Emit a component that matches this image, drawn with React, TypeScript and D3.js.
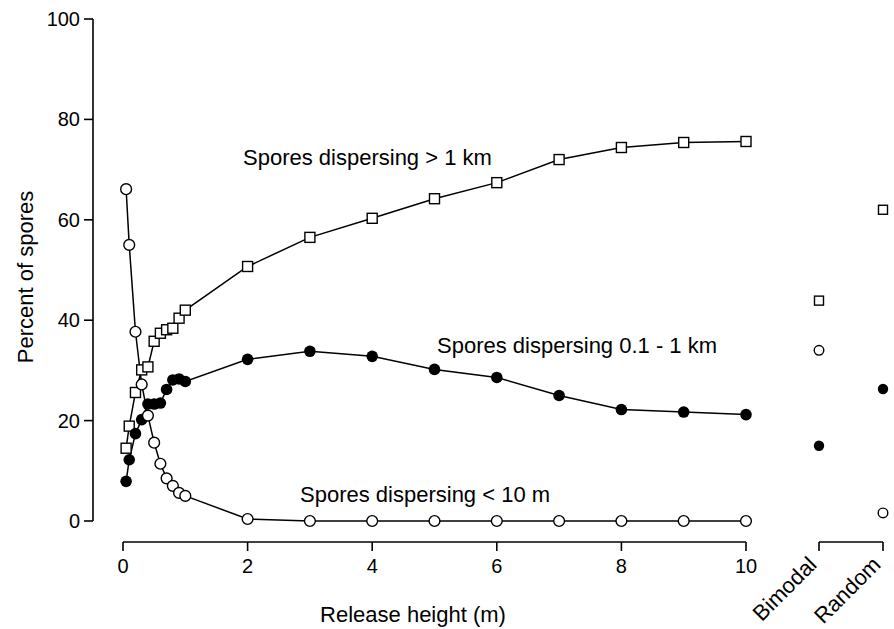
import React from "react";
import * as d3 from "d3";

// Release heights (m) for the measured runs
const heights = [0.05, 0.1, 0.2, 0.3, 0.4, 0.5, 0.6, 0.7, 0.8, 0.9, 1.0, 2, 3, 4, 5, 6, 7, 8, 9, 10];

// Percent of spores in each distance class
const over1km = [14.5, 18.9, 25.6, 30.1, 30.7, 35.8, 37.4, 38.1, 38.4, 40.4, 42.0, 50.7, 56.5, 60.3, 64.2, 67.4, 72.0, 74.4, 75.4, 75.6];
const mid01to1km = [7.9, 12.2, 17.4, 20.2, 23.3, 23.3, 23.5, 26.2, 28.1, 28.3, 27.8, 32.2, 33.8, 32.8, 30.2, 28.6, 25.0, 22.2, 21.7, 21.2];
const under10m = [66.1, 55.0, 37.7, 27.2, 21.0, 15.6, 11.4, 8.5, 7.0, 5.6, 5.0, 0.4, 0, 0, 0, 0, 0, 0, 0, 0];

// Reference scenarios shown on the right
const scenarios = ["Bimodal", "Random"];
const scenarioOver1km = [43.9, 62.0];
const scenarioMid = [15.0, 26.3];
const scenarioUnder10m = [34.0, 1.6];

const yTicks = [0, 20, 40, 60, 80, 100];
const xTicks = [0, 2, 4, 6, 8, 10];

const FONT = "'Liberation Sans', Arial, Helvetica, sans-serif";

export default function App() {
  const W = 894;
  const H = 629;
  const x = d3.scaleLinear().domain([0, 10]).range([123, 746]);
  const y = d3.scaleLinear().domain([0, 100]).range([521, 19]);
  const cat = d3.scalePoint<string>().domain(scenarios).range([819, 883]);

  const axisY = 542;
  const yAxisX = 93;

  const line = (vals: number[]) =>
    d3.line<number>().x((_, i) => x(heights[i])).y((v) => y(v))(vals) || "";

  const sq = 10;
  const r = 5.4;
  const sqSmall = 9;
  const rSmall = 4.8;

  return (
    <svg width={W} height={H} style={{ position: "absolute", left: 0, top: 0, background: "#fff" }} fontFamily={FONT}>
      <rect width={W} height={H} fill="#fff" />

      {/* y axis */}
      <line x1={yAxisX} x2={yAxisX} y1={y(100)} y2={y(0)} stroke="#000" strokeWidth={1.6} />
      {yTicks.map((t) => (
        <g key={"yt" + t}>
          <line x1={yAxisX - 9} x2={yAxisX} y1={y(t)} y2={y(t)} stroke="#000" strokeWidth={1.6} />
          <text x={yAxisX - 13} y={y(t)} dy="0.35em" textAnchor="end" fontSize={20}>
            {t}
          </text>
        </g>
      ))}
      <text transform={`translate(33,277) rotate(-90)`} textAnchor="middle" fontSize={22}>
        Percent of spores
      </text>

      {/* x axis */}
      <line x1={x(0)} x2={x(10)} y1={axisY} y2={axisY} stroke="#000" strokeWidth={1.6} />
      {xTicks.map((t) => (
        <g key={"xt" + t}>
          <line x1={x(t)} x2={x(t)} y1={axisY} y2={axisY + 9} stroke="#000" strokeWidth={1.6} />
          <text x={x(t)} y={573} textAnchor="middle" fontSize={20}>
            {t}
          </text>
        </g>
      ))}
      <text x={413} y={622} textAnchor="middle" fontSize={22}>
        Release height (m)
      </text>

      {/* scenario axis */}
      <line x1={cat("Bimodal")!} x2={cat("Random")!} y1={axisY} y2={axisY} stroke="#000" strokeWidth={1.6} />
      {scenarios.map((s) => (
        <g key={"cat" + s}>
          <line x1={cat(s)!} x2={cat(s)!} y1={axisY} y2={axisY + 9} stroke="#000" strokeWidth={1.6} />
          <text
            transform={`translate(${cat(s)! - 1},566) rotate(-45)`}
            textAnchor="end"
            fontSize={22}
          >
            {s}
          </text>
        </g>
      ))}

      {/* connecting lines */}
      <path d={line(over1km)} fill="none" stroke="#000" strokeWidth={1.5} />
      <path d={line(mid01to1km)} fill="none" stroke="#000" strokeWidth={1.5} />
      <path d={line(under10m)} fill="none" stroke="#000" strokeWidth={1.5} />

      {/* markers */}
      {over1km.map((v, i) => (
        <rect key={"s" + i} x={x(heights[i]) - sq / 2} y={y(v) - sq / 2} width={sq} height={sq} fill="#fff" stroke="#000" strokeWidth={1.4} />
      ))}
      {mid01to1km.map((v, i) => (
        <circle key={"f" + i} cx={x(heights[i])} cy={y(v)} r={r + 0.4} fill="#000" />
      ))}
      {under10m.map((v, i) => (
        <circle key={"o" + i} cx={x(heights[i])} cy={y(v)} r={r} fill="#fff" stroke="#000" strokeWidth={1.4} />
      ))}

      {scenarios.map((s, i) => (
        <g key={"sc" + s}>
          <rect x={cat(s)! - sqSmall / 2} y={y(scenarioOver1km[i]) - sqSmall / 2} width={sqSmall} height={sqSmall} fill="#fff" stroke="#000" strokeWidth={1.4} />
          <circle cx={cat(s)!} cy={y(scenarioMid[i])} r={rSmall + 0.4} fill="#000" />
          <circle cx={cat(s)!} cy={y(scenarioUnder10m[i])} r={rSmall} fill="#fff" stroke="#000" strokeWidth={1.4} />
        </g>
      ))}

      {/* series annotations */}
      <text x={243} y={165} fontSize={22}>Spores dispersing &gt; 1 km</text>
      <text x={437} y={353} fontSize={22}>Spores dispersing 0.1 - 1 km</text>
      <text x={300} y={502} fontSize={22}>Spores dispersing &lt; 10 m</text>
    </svg>
  );
}
